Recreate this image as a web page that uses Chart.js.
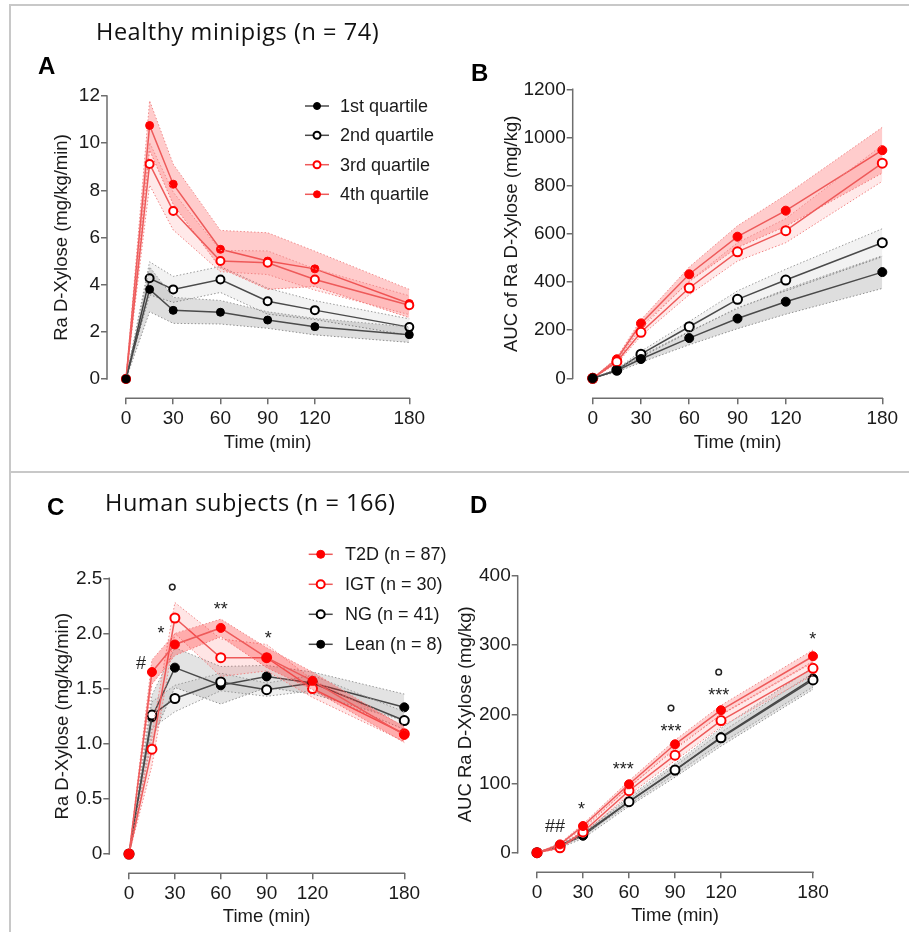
<!DOCTYPE html>
<html lang="en">
<head>
<meta charset="UTF-8">
<title>Ra D-Xylose</title>
<style>
  body { margin: 0; background: #fff; }
  #page { position: relative; width: 909px; height: 932px; overflow: hidden; }
  canvas { position: absolute; }
  .rule { position: absolute; background: #c8c8c8; }
  .title { position: absolute; font-family: 'Open Sans', sans-serif; font-size: 23.5px; letter-spacing: 0.55px; line-height: 1; color: #111; white-space: nowrap; }
  .letter { position: absolute; font-family: 'Liberation Sans', Arial, sans-serif; font-weight: bold; font-size: 24px; line-height: 1; color: #000; }
</style>
</head>
<body>
<div id="page">
  <canvas id="chartA" width="455" height="465" style="left:0;top:0"></canvas>
  <canvas id="chartB" width="454" height="465" style="left:455px;top:0"></canvas>
  <canvas id="chartC" width="455" height="465" style="left:0;top:467px"></canvas>
  <canvas id="chartD" width="454" height="465" style="left:455px;top:467px"></canvas>

  <div class="rule" style="left:10px;top:4px;width:899px;height:2px"></div>
  <div class="rule" style="left:9px;top:4px;width:2px;height:928px"></div>
  <div class="rule" style="left:10px;top:471px;width:899px;height:1.5px"></div>

  <div class="title" style="left:96px;top:20px">Healthy minipigs (n = 74)</div>
  <div class="title" style="left:105px;top:491px">Human subjects (n = 166)</div>
  <div class="letter" style="left:38px;top:54px">A</div>
  <div class="letter" style="left:471px;top:61px">B</div>
  <div class="letter" style="left:47px;top:495px">C</div>
  <div class="letter" style="left:470px;top:493px">D</div>
</div>

<script src="https://cdn.jsdelivr.net/npm/chart.js"></script>
<script>
// ---- data ----
const TIMES = [0, 15, 30, 60, 90, 120, 180];
const X_TICKS = [0, 30, 60, 90, 120, 180];

// A: Ra D-Xylose, minipigs by quartile (mean and band half-width)
const aQ1 = [0, 3.80, 2.91, 2.83, 2.50, 2.22, 1.88];
const aQ1Err = [0, 0.95, 0.55, 0.50, 0.35, 0.35, 0.33];
const aQ2 = [0, 4.27, 3.80, 4.22, 3.30, 2.92, 2.20];
const aQ2Err = [0, 0.70, 0.55, 0.55, 0.55, 0.40, 0.35];
const aQ3 = [0, 9.12, 7.12, 5.00, 4.93, 4.22, 3.13];
const aQ3Err = [0, 0.90, 0.80, 0.45, 0.50, 0.45, 0.40];
const aQ4 = [0, 10.75, 8.26, 5.50, 5.00, 4.67, 3.20];
const aQ4Err = [0, 1.05, 0.85, 0.80, 1.20, 0.75, 0.60];
const aYTicks = [0, 2, 4, 6, 8, 10, 12];

// B: AUC of Ra D-Xylose, minipigs
const bQ1 = [0, 32, 80, 167, 248, 318, 441];
const bQ1Err = [0, 6, 14, 28, 42, 52, 68];
const bQ2 = [0, 34, 100, 214, 328, 408, 563];
const bQ2Err = [0, 5, 12, 22, 35, 45, 58];
const bQ3 = [0, 69, 191, 375, 525, 613, 893];
const bQ3Err = [0, 8, 15, 28, 38, 50, 75];
const bQ4 = [0, 79, 228, 432, 588, 696, 947];
const bQ4Err = [0, 8, 15, 30, 45, 65, 95];
const bYTicks = [0, 200, 400, 600, 800, 1000, 1200];

// C: Ra D-Xylose, human subjects
const cT2D = [0, 1.65, 1.90, 2.05, 1.78, 1.57, 1.08];
const cT2DErr = [0, 0.11, 0.10, 0.08, 0.09, 0.08, 0.07];
const cIGT = [0, 0.95, 2.14, 1.78, 1.78, 1.50, 1.09];
const cIGTErr = [0, 0.15, 0.14, 0.17, 0.12, 0.08, 0.07];
const cNG = [0, 1.26, 1.41, 1.56, 1.49, 1.55, 1.21];
const cNGErr = [0, 0.12, 0.12, 0.08, 0.06, 0.07, 0.08];
const cLean = [0, 1.24, 1.69, 1.53, 1.61, 1.55, 1.33];
const cLeanErr = [0, 0.20, 0.18, 0.17, 0.10, 0.10, 0.12];
const cYTicks = [0, 0.5, 1.0, 1.5, 2.0, 2.5];
const cYLabels = ['0', '0.5', '1.0', '1.5', '2.0', '2.5'];
const cMarkText = ['#', '*', '°', '**', '*'];
const cMarkTime = [7.8, 21, 28.3, 60, 91];
const cMarkVal = [1.74, 2.04, 2.42, 2.26, 2.0];

// D: AUC Ra D-Xylose, human subjects
const dT2D = [0, 12, 38.6, 98.9, 156.7, 206, 284];
const dT2DErr = [0, 1.5, 3, 5, 6, 7, 9];
const dIGT = [0, 7, 30, 89.6, 141, 191, 266.6];
const dIGTErr = [0, 1.5, 3, 6, 8, 9, 10];
const dNG = [0, 10, 27, 73.7, 119.5, 166, 249.7];
const dNGErr = [0, 1.5, 2, 4, 6, 8, 10];
const dLean = [0, 10, 24.5, 74, 119, 167, 252];
const dLeanErr = [0, 3, 4, 7, 10, 13, 16];
const dYTicks = [0, 100, 200, 300, 400];
const dMarkText = ['##', '*', '***', '°', '***', '°', '***', '*'];
const dMarkTime = [11.7, 29, 56.3, 87.4, 87.4, 118.5, 118.5, 179.8];
const dMarkVal = [40, 70, 128, 209, 182, 261, 235, 316];

// ---- styles ----
const FONT = "'Liberation Sans', Arial, sans-serif";
const AXIS = '#6e6e6e';
const RED = '#ff0000', RED_LINE = '#ee5a5a', RED_EDGE = '#f08a8a';
const BLK = '#000000', BLK_LINE = '#4a4a4a', BLK_EDGE = '#9a9a9a';
const Y_W = 50, X_H = 40;

Chart.defaults.font.family = FONT;
Chart.defaults.font.size = 19;
Chart.defaults.color = '#1a1a1a';

function series(label, mean, err, red, open, band) {
  return { label, mean, err, open, band,
    color: red ? RED : BLK, line: red ? RED_LINE : BLK_LINE, edge: red ? RED_EDGE : BLK_EDGE };
}

function pts(arr) { return arr.map((v, i) => ({ x: TIMES[i], y: v })); }

// axis lines, axis titles, legend and significance marks (GraphPad-like offset axes)
const gpPlugin = {
  id: 'gp',
  afterDraw(chart, args, o) {
    const { ctx, chartArea: ca, scales: { x, y } } = chart;
    const yTop = y.getPixelForValue(o.yTicks[o.yTicks.length - 1]);
    const yBot = y.getPixelForValue(0);
    const x0 = x.getPixelForValue(X_TICKS[0]);
    const x1 = x.getPixelForValue(X_TICKS[X_TICKS.length - 1]);
    ctx.save();
    ctx.strokeStyle = AXIS;
    ctx.lineWidth = 1.5;
    ctx.beginPath();
    ctx.moveTo(ca.left, yTop - 0.75);
    ctx.lineTo(ca.left, yBot + 0.75);
    ctx.moveTo(x0 - 0.75, ca.bottom);
    ctx.lineTo(x1 + 0.75, ca.bottom);
    ctx.stroke();

    ctx.fillStyle = '#1a1a1a';
    ctx.font = '18.5px ' + FONT;
    ctx.textAlign = 'center';
    ctx.textBaseline = 'middle';
    ctx.fillText('Time (min)', (x0 + x1) / 2, ca.bottom + o.xTitleOff);
    ctx.save();
    ctx.translate(ca.left - o.yTitleOff, (yTop + yBot) / 2);
    ctx.rotate(-Math.PI / 2);
    ctx.fillText(o.yTitle, 0, 0);
    ctx.restore();

    if (o.legend) {
      const L = o.legend;
      ctx.font = '18px ' + FONT;
      L.items.forEach((s, i) => {
        const ly = L.rows[i];
        ctx.strokeStyle = s.line;
        ctx.lineWidth = 1.5;
        ctx.beginPath();
        ctx.moveTo(L.x - 12, ly);
        ctx.lineTo(L.x + 12, ly);
        ctx.stroke();
        ctx.beginPath();
        ctx.arc(L.x, ly, L.r, 0, Math.PI * 2);
        ctx.fillStyle = s.open ? '#fff' : s.color;
        ctx.fill();
        ctx.strokeStyle = s.color;
        ctx.lineWidth = s.open ? 2 : 1;
        ctx.stroke();
        ctx.fillStyle = '#1a1a1a';
        ctx.textAlign = 'left';
        ctx.textBaseline = 'middle';
        ctx.fillText(s.label, L.textX, ly + 1);
      });
    }

    if (o.marks) {
      const m = o.marks;
      ctx.textAlign = 'center';
      ctx.textBaseline = 'alphabetic';
      m.text.forEach((t, i) => {
        const px = x.getPixelForValue(m.time[i]);
        const py = y.getPixelForValue(m.val[i]);
        if (t === '°') {
          ctx.beginPath();
          ctx.arc(px, py, 2.8, 0, Math.PI * 2);
          ctx.strokeStyle = '#222';
          ctx.lineWidth = 1.5;
          ctx.stroke();
        } else {
          ctx.fillStyle = '#222';
          ctx.font = '18px ' + FONT;
          const off = t[0] === '#' ? 0.36 * 18 : 0.58 * 18;
          ctx.fillText(t, px, py + off);
        }
      });
    }
    ctx.restore();
  }
};

function makePanel(id, p) {
  const canvas = document.getElementById(id);
  const W = canvas.width, H = canvas.height;
  const yMaxTick = p.yTicks[p.yTicks.length - 1];
  const pxX = (p.xEnd - p.xZero) / 180;
  const pxY = (p.yZero - p.yTop) / yMaxTick;

  const datasets = [];
  p.layers.forEach(s => {  // listed bottom to top
    const lo = s.mean.map((v, i) => v - s.err[i]);
    const hi = s.mean.map((v, i) => v + s.err[i]);
    datasets.push({ data: pts(lo), borderColor: s.edge, borderWidth: 1, borderDash: [1.5, 2],
      pointRadius: 0, fill: false });
    datasets.push({ data: pts(hi), borderColor: s.edge, borderWidth: 1, borderDash: [1.5, 2],
      pointRadius: 0, fill: '-1', backgroundColor: s.band });
    datasets.push({ label: s.label, data: pts(s.mean), borderColor: s.line, borderWidth: 1.5,
      pointRadius: p.r, pointBorderWidth: s.open ? 2 : 1,
      pointBackgroundColor: s.open ? '#fff' : s.color, pointBorderColor: s.color,
      fill: false, clip: false });
  });
  datasets.forEach((d, i) => { d.order = datasets.length - i; d.tension = 0; });

  return new Chart(canvas, {
    type: 'line',
    data: { datasets },
    options: {
      responsive: false,
      animation: false,
      events: [],
      layout: { padding: {
        left: p.axisLeft - Y_W,
        right: W - p.xEnd - 10,
        top: p.yTop - 10,
        bottom: H - p.axisBottom - X_H
      } },
      plugins: {
        legend: { display: false },
        tooltip: { enabled: false },
        gp: { yTicks: p.yTicks, yTitle: p.yTitle, yTitleOff: p.yTitleOff, xTitleOff: p.xTitleOff,
              legend: p.legend, marks: p.marks }
      },
      scales: {
        x: {
          type: 'linear',
          min: -(p.xZero - p.axisLeft) / pxX,
          max: 180 + 10 / pxX,
          afterFit: s => { s.height = X_H; },
          afterBuildTicks: s => { s.ticks = X_TICKS.map(v => ({ value: v })); },
          border: { display: false },
          grid: { drawOnChartArea: false, drawTicks: true, tickLength: 6, color: AXIS, lineWidth: 1.5 },
          ticks: { padding: 3, autoSkip: false, maxRotation: 0, callback: v => String(v) }
        },
        y: {
          type: 'linear',
          min: -(p.axisBottom - p.yZero) / pxY,
          max: yMaxTick + 10 / pxY,
          afterFit: s => { s.width = Y_W; },
          afterBuildTicks: s => { s.ticks = p.yTicks.map(v => ({ value: v })); },
          border: { display: false },
          grid: { drawOnChartArea: false, drawTicks: true, tickLength: 6, color: AXIS, lineWidth: 1.5 },
          ticks: { padding: 1, autoSkip: false,
            callback: (v, i) => p.yLabels ? p.yLabels[i] : String(v) }
        }
      }
    },
    plugins: [gpPlugin]
  });
}

// ---- panel A ----
const sA1 = series('1st quartile', aQ1, aQ1Err, false, false, 'rgba(0,0,0,0.13)');
const sA2 = series('2nd quartile', aQ2, aQ2Err, false, true, 'rgba(0,0,0,0.05)');
const sA3 = series('3rd quartile', aQ3, aQ3Err, true, true, 'rgba(255,40,40,0.10)');
const sA4 = series('4th quartile', aQ4, aQ4Err, true, false, 'rgba(255,40,40,0.24)');
makePanel('chartA', {
  axisLeft: 107, axisBottom: 398.3, xZero: 126, xEnd: 409.3, yZero: 379, yTop: 96,
  yTicks: aYTicks, yTitle: 'Ra D-Xylose (mg/kg/min)', yTitleOff: 45.3, xTitleOff: 45, r: 4,
  layers: [sA2, sA4, sA3, sA1],
  legend: { x: 317, textX: 340, r: 3.5, rows: [106, 135.3, 164.7, 194.3], items: [sA1, sA2, sA3, sA4] }
});

// ---- panel B ----
const sB1 = series('1st quartile', bQ1, bQ1Err, false, false, 'rgba(0,0,0,0.13)');
const sB2 = series('2nd quartile', bQ2, bQ2Err, false, true, 'rgba(0,0,0,0.05)');
const sB3 = series('3rd quartile', bQ3, bQ3Err, true, true, 'rgba(255,40,40,0.10)');
const sB4 = series('4th quartile', bQ4, bQ4Err, true, false, 'rgba(255,40,40,0.24)');
makePanel('chartB', {
  axisLeft: 117.7, axisBottom: 398.3, xZero: 137.7, xEnd: 427.3, yZero: 378.3, yTop: 89.3,
  yTicks: bYTicks, yTitle: 'AUC of Ra D-Xylose (mg/kg)', yTitleOff: 61, xTitleOff: 45, r: 4.5,
  layers: [sB2, sB4, sB3, sB1]
});

// ---- panel C ----
const sC1 = series('T2D (n = 87)', cT2D, cT2DErr, true, false, 'rgba(255,40,40,0.30)');
const sC2 = series('IGT (n = 30)', cIGT, cIGTErr, true, true, 'rgba(255,40,40,0.12)');
const sC3 = series('NG (n = 41)', cNG, cNGErr, false, true, 'rgba(0,0,0,0.06)');
const sC4 = series('Lean (n = 8)', cLean, cLeanErr, false, false, 'rgba(0,0,0,0.11)');
makePanel('chartC', {
  axisLeft: 109.3, axisBottom: 406.3, xZero: 129, xEnd: 404.3, yZero: 387, yTop: 111.3,
  yTicks: cYTicks, yLabels: cYLabels, yTitle: 'Ra D-Xylose (mg/kg/min)', yTitleOff: 46.6, xTitleOff: 43.4, r: 4.5,
  layers: [sC4, sC3, sC2, sC1],
  legend: { x: 320.7, textX: 345, r: 4, rows: [87.3, 117.3, 147.3, 177.3], items: [sC1, sC2, sC3, sC4] },
  marks: { text: cMarkText, time: cMarkTime, val: cMarkVal }
});

// ---- panel D ----
const sD1 = series('T2D (n = 87)', dT2D, dT2DErr, true, false, 'rgba(255,40,40,0.20)');
const sD2 = series('IGT (n = 30)', dIGT, dIGTErr, true, true, 'rgba(255,40,40,0.10)');
const sD3 = series('NG (n = 41)', dNG, dNGErr, false, true, 'rgba(0,0,0,0.06)');
const sD4 = series('Lean (n = 8)', dLean, dLeanErr, false, false, 'rgba(0,0,0,0.10)');
makePanel('chartD', {
  axisLeft: 62.7, axisBottom: 405.3, xZero: 82, xEnd: 358, yZero: 385.7, yTop: 109,
  yTicks: dYTicks, yTitle: 'AUC Ra D-Xylose (mg/kg)', yTitleOff: 51.7, xTitleOff: 43.4, r: 4.5,
  layers: [sD4, sD3, sD2, sD1],
  marks: { text: dMarkText, time: dMarkTime, val: dMarkVal }
});
</script>
</body>
</html>
